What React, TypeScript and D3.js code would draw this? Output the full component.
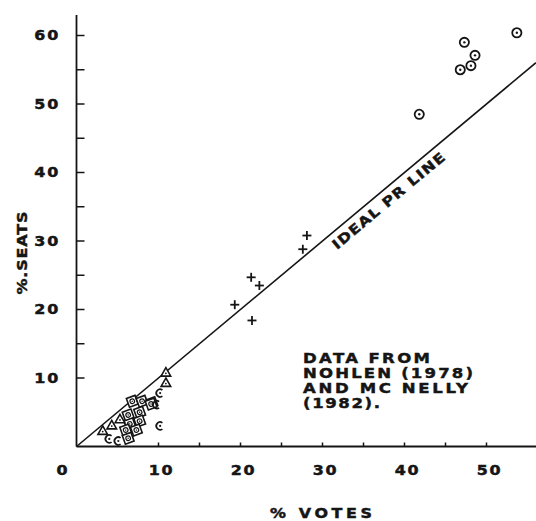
import React from "react";
import * as d3 from "d3";

// ---- data (percent votes, percent seats) ----
const circleVotes = [53.7, 47.3, 48.6, 48.1, 46.8, 41.8];
const circleSeats = [60.4, 59.0, 57.1, 55.6, 55.0, 48.5];

const crossVotes = [28.1, 27.6, 21.3, 22.3, 19.3, 21.4];
const crossSeats = [30.8, 28.8, 24.7, 23.5, 20.7, 18.4];

const triVotes = [10.9, 10.9, 3.2, 4.3, 5.3];
const triSeats = [10.8, 9.3, 2.3, 3.1, 4.0];

const boxVotes = [6.8, 8.0, 9.2, 7.7, 6.3, 7.7, 6.5, 7.3, 6.0, 6.3, 9.1];
const boxSeats = [6.6, 6.6, 6.4, 5.0, 4.6, 3.7, 3.3, 2.4, 2.4, 1.2, 6.2];

const cVotes = [10.2, 9.8, 10.2, 4.0, 5.1];
const cSeats = [7.8, 6.1, 3.0, 1.1, 0.8];

const xTickLabels = [0, 10, 20, 30, 40, 50];
const yTickLabels = [10, 20, 30, 40, 50, 60];
const xMinorTicks = [10, 15, 20, 25, 30, 35, 40, 45, 50];
const yMinorTicks = [10, 15, 20, 25, 30, 35, 40, 45, 50, 55, 60];

const noteLines = ["DATA FROM", "NOHLEN (1978)", "AND MC NELLY", "(1982)."];
const noteLengths = [127, 170, 165, 77];

const INK = "#151515";
const FONT = "'DejaVu Sans', sans-serif";
const WIDE = 1.18;

type LabelProps = {
  x: number;
  y: number;
  rotate?: number;
  length?: number;
  anchor?: "start" | "middle" | "end";
  size?: number;
  spacing?: number;
  dy?: string;
  children: React.ReactNode;
};

function Label({ x, y, rotate = 0, length, anchor = "start", size = 14, spacing, dy, children }: LabelProps) {
  return (
    <text
      transform={`translate(${x},${y}) rotate(${rotate}) scale(${WIDE},1)`}
      textAnchor={anchor}
      fontSize={size}
      fontWeight="bold"
      fill={INK}
      stroke={INK}
      strokeWidth={0.45}
      dy={dy}
      letterSpacing={spacing}
      textLength={length ? length / WIDE : undefined}
      lengthAdjust="spacing"
    >
      {children}
    </text>
  );
}

export default function App() {
  const x = d3.scaleLinear().domain([0, 10]).range([76.5, 158.5]);
  const y = d3.scaleLinear().domain([0, 10]).range([446.5, 378]);

  const xEnd = 536;
  const lineEndVotes = x.invert(xEnd);
  const prLine = d3.line<number>()
    .x((d) => x(d))
    .y((d) => y(d))([0, lineEndVotes]);

  const angle = (Math.atan2(y(0) - y(10), x(10) - x(0)) * 180) / Math.PI;

  const zip = (a: number[], b: number[]) => a.map((v, i) => [v, b[i]] as [number, number]);

  const cArc = d3.arc()({
    innerRadius: 3.0,
    outerRadius: 4.7,
    startAngle: Math.PI * 0.8,
    endAngle: Math.PI * 2.2,
  } as any);

  return (
    <svg
      width={536}
      height={521}
      style={{ position: "absolute", left: 0, top: 0, background: "#fff" }}
      fontFamily={FONT}
    >
      <rect width={536} height={521} fill="#fff" />
      {/* axes */}
      <line x1={x(0)} y1={15} x2={x(0)} y2={y(0)} stroke={INK} strokeWidth={1.8} />
      <line x1={x(0)} y1={y(0)} x2={xEnd} y2={y(0)} stroke={INK} strokeWidth={1.8} />
      {yMinorTicks.map((t) => (
        <line key={"yt" + t} x1={x(0)} x2={x(0) + 8} y1={y(t)} y2={y(t)} stroke={INK} strokeWidth={1.5} />
      ))}
      {xMinorTicks.map((t) => (
        <line key={"xt" + t} x1={x(t)} x2={x(t)} y1={y(0)} y2={y(0) - 4} stroke={INK} strokeWidth={1.5} />
      ))}
      {yTickLabels.map((t) => (
        <Label key={"yl" + t} x={60} y={y(t)} dy="0.36em" anchor="end" size={13.5} spacing={1.5}>
          {t}
        </Label>
      ))}
      {xTickLabels.map((t) => (
        <Label key={"xl" + t} x={t === 0 ? 63 : x(t) + 3} y={470} dy="0.36em" anchor="middle" size={13.5} spacing={1.5}>
          {t}
        </Label>
      ))}
      {/* axis titles */}
      <Label x={27} y={253} rotate={-90} anchor="middle" size={13.5} length={83}>
        %.SEATS
      </Label>
      <Label x={270} y={518} size={13.5} length={102}>
        % VOTES
      </Label>

      {/* ideal PR line */}
      <path d={prLine ?? ""} stroke={INK} strokeWidth={1.6} fill="none" />
      <Label x={337} y={250} rotate={-angle} size={13.5} length={142}>
        IDEAL PR LINE
      </Label>

      {/* note */}
      {noteLines.map((s, i) => (
        <Label key={"n" + i} x={303} y={363 + i * 15} size={14} length={noteLengths[i]}>
          {s}
        </Label>
      ))}

      {/* circled dots */}
      {zip(circleVotes, circleSeats).map(([v, s], i) => (
        <g key={"c" + i} transform={`translate(${x(v)},${y(s)})`}>
          <circle r={4.6} fill="#fff" stroke={INK} strokeWidth={1.8} />
          <circle r={1.2} fill={INK} />
        </g>
      ))}

      {/* crosses */}
      {zip(crossVotes, crossSeats).map(([v, s], i) => (
        <g key={"x" + i} transform={`translate(${x(v)},${y(s)})`} stroke={INK} strokeWidth={1.8}>
          <line x1={-4.5} x2={4.5} y1={0} y2={0} />
          <line x1={0} x2={0} y1={-4.5} y2={4.5} />
        </g>
      ))}

      {/* boxed circles */}
      {zip(boxVotes, boxSeats).map(([v, s], i) => (
        <g key={"b" + i} transform={`translate(${x(v)},${y(s)}) rotate(-20)`}>
          <rect x={-4.6} y={-4.6} width={9.2} height={9.2} fill="#fff" stroke={INK} strokeWidth={1.6} />
          <circle r={2.3} fill="none" stroke={INK} strokeWidth={1.2} />
          <circle r={0.7} fill={INK} />
        </g>
      ))}

      {/* triangles */}
      {zip(triVotes, triSeats).map(([v, s], i) => (
        <g key={"t" + i} transform={`translate(${x(v)},${y(s)})`}>
          <path d="M0,-4.8 L4.8,3.6 L-4.8,3.6 Z" fill="#fff" stroke={INK} strokeWidth={1.6} />
          <circle r={0.9} cy={0.8} fill={INK} />
        </g>
      ))}

      {/* open C marks */}
      {zip(cVotes, cSeats).map(([v, s], i) => (
        <g key={"o" + i} transform={`translate(${x(v)},${y(s)})`}>
          <path d={cArc ?? ""} fill={INK} />
          <circle r={1.1} fill={INK} />
        </g>
      ))}
    </svg>
  );
}
